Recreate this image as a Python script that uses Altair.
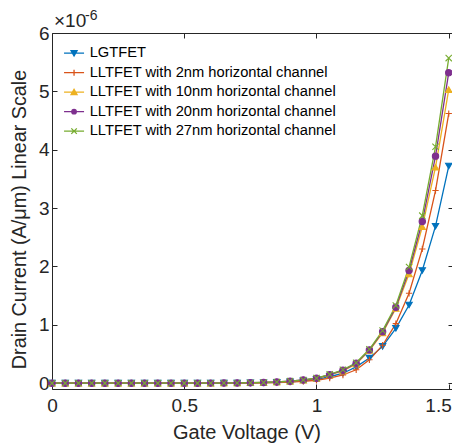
import altair as alt
import pandas as pd

voltage = [0.0, 0.05, 0.1, 0.15, 0.2, 0.25, 0.3, 0.35, 0.4, 0.45, 0.5, 0.55, 0.6, 0.65,
           0.7, 0.75, 0.8, 0.85, 0.9, 0.95, 1.0, 1.05, 1.1, 1.15, 1.2, 1.25, 1.3, 1.35,
           1.4, 1.45, 1.5]

series_names = ["LGTFET",
                "LLTFET with 2nm horizontal channel",
                "LLTFET with 10nm horizontal channel",
                "LLTFET with 20nm horizontal channel",
                "LLTFET with 27nm horizontal channel"]

# drain current in units of 1e-6 A/um
lgtfet = [0, 0, 0, 0, 0, 0, 0, 0, 0, 0, 0, 0, 0.001, 0.002,
          0.003, 0.005, 0.008, 0.014, 0.024, 0.04, 0.065, 0.11, 0.17, 0.28, 0.43, 0.63,
          0.94, 1.34, 1.93, 2.69, 3.72]
ll2nm = [0, 0, 0, 0, 0, 0, 0, 0, 0, 0, 0, 0, 0.001, 0.001,
         0.002, 0.003, 0.006, 0.01, 0.018, 0.03, 0.05, 0.086, 0.14, 0.23, 0.40, 0.65,
         1.02, 1.54, 2.30, 3.30, 4.62]
ll10nm = [0, 0, 0, 0, 0, 0, 0, 0, 0, 0, 0, 0, 0.001, 0.002,
          0.004, 0.006, 0.011, 0.019, 0.032, 0.052, 0.08, 0.14, 0.21, 0.33, 0.56, 0.86,
          1.28, 1.87, 2.68, 3.70, 5.03]
ll20nm = [0, 0, 0, 0, 0, 0, 0, 0, 0, 0, 0, 0, 0.001, 0.002,
          0.004, 0.007, 0.012, 0.02, 0.034, 0.054, 0.083, 0.145, 0.22, 0.34, 0.57, 0.88,
          1.30, 1.93, 2.77, 3.89, 5.32]
ll27nm = [0, 0, 0, 0, 0, 0, 0, 0, 0, 0, 0, 0, 0.001, 0.002,
          0.004, 0.007, 0.012, 0.02, 0.035, 0.055, 0.086, 0.15, 0.23, 0.35, 0.58, 0.90,
          1.33, 1.99, 2.87, 4.05, 5.57]

colors = ["#0072BD", "#D95319", "#EDB120", "#7E2F8E", "#77AC30"]
marker_shapes = ["triangle-down", "M-1,0L1,0M0,-1L0,1", "triangle-up", "circle",
                 "M-1,-1L1,1M-1,1L1,-1"]
legend_shapes = [
    "M-2,0L2,0M-0.6,-0.5L0.6,-0.5L0,0.55Z",
    "M-2,0L2,0M0,-0.6L0,0.6",
    "M-2,0L2,0M-0.6,0.5L0.6,0.5L0,-0.55Z",
    "M-2,0L2,0M-0.45,0A0.45,0.45,0,1,1,0.45,0A0.45,0.45,0,1,1,-0.45,0Z",
    "M-2,0L2,0M-0.55,-0.55L0.55,0.55M-0.55,0.55L0.55,-0.55",
]

rows = []
for name, vals in zip(series_names, [lgtfet, ll2nm, ll10nm, ll20nm, ll27nm]):
    for v, c in zip(voltage, vals):
        rows.append({"V": v, "I": c, "series": name})
df = pd.DataFrame(rows)

FONT = "Liberation Sans"
AX = "#262626"

xs = alt.Scale(domain=[0, 1.5161], nice=False, zero=False)
ys = alt.Scale(domain=[-0.1, 6], nice=False, zero=False)
col_scale = alt.Scale(domain=series_names, range=colors)

base = alt.Chart(df)

lines = base.mark_line(strokeWidth=1.3).encode(
    x=alt.X("V:Q", scale=xs, axis=alt.Axis(
        orient="bottom", values=[0, 0.5, 1, 1.5], labelExpr="toString(datum.value)",
        tickSize=5, offset=-5, domain=False, grid=False, tickColor=AX,
        labelFont=FONT, labelFontSize=19, labelColor=AX, labelPadding=7,
        labelAlign={"condition": {"test": "datum.value == 1.5", "value": "right"},
                    "value": "center"},
        labelOffset={"condition": {"test": "datum.value == 1.5", "value": 2.5},
                     "value": 0},
        title="Gate Voltage (V)", titleFont=FONT, titleFontSize=20,
        titleFontWeight="normal", titleColor=AX, titleBaseline="alphabetic",
        titleAlign="center", titleX=194.5, titleY=54.7)),
    y=alt.Y("I:Q", scale=ys, axis=alt.Axis(
        orient="left", values=[0, 1, 2, 3, 4, 5, 6], tickSize=5, offset=-5,
        domain=False, grid=False, tickColor=AX,
        labelFont=FONT, labelFontSize=19, labelColor=AX, labelPadding=3,
        title="Drain Current (A/μm) Linear Scale", titleFont=FONT, titleFontSize=19.8,
        titleFontWeight="normal", titleColor=AX, titleBaseline="alphabetic",
        titleAngle=-90, titleAlign="center", titleX=-32, titleY=186)),
    color=alt.Color("series:N", scale=col_scale, legend=None),
    detail="series:N",
)

points = base.mark_point(filled=True, size=40, strokeWidth=1.1, opacity=1).encode(
    x=alt.X("V:Q", scale=xs, axis=alt.Axis(
        orient="top", values=[0, 0.5, 1, 1.5], labels=False, tickSize=5, offset=-5,
        domain=False, grid=False, tickColor=AX, title=None)),
    y=alt.Y("I:Q", scale=ys, axis=alt.Axis(
        orient="right", values=[0, 1, 2, 3, 4, 5, 6], labels=False, tickSize=5,
        offset=-5, domain=False, grid=False, tickColor=AX, title=None)),
    color=alt.Color("series:N", scale=col_scale, legend=None),
    stroke=alt.Stroke("series:N", scale=col_scale, legend=None),
    shape=alt.Shape("series:N", scale=alt.Scale(domain=series_names, range=marker_shapes),
                    legend=None),
)

legend_layer = base.transform_filter("datum.V < 0").mark_point(
    filled=True, strokeWidth=1.3, opacity=1).encode(
    x=alt.X("V:Q", scale=xs, axis=None),
    y=alt.Y("I:Q", scale=ys, axis=None),
    color=alt.Color("series:N", scale=col_scale, legend=alt.Legend(title=None)),
    stroke=alt.Stroke("series:N", scale=col_scale, legend=alt.Legend(title=None)),
    shape=alt.Shape("series:N", scale=alt.Scale(domain=series_names, range=legend_shapes),
                    legend=alt.Legend(title=None)),
)

times10 = alt.Chart(alt.Data(values=[{"t": "×10"}])).mark_text(
    font=FONT, fontSize=19, color=AX, align="left", baseline="alphabetic").encode(
    x=alt.value(2), y=alt.value(-6.5), text="t:N")
exp6 = alt.Chart(alt.Data(values=[{"t": "-6"}])).mark_text(
    font=FONT, fontSize=14, color=AX, align="left", baseline="alphabetic").encode(
    x=alt.value(33), y=alt.value(-13), text="t:N")

chart = alt.layer(lines, points, legend_layer, times10, exp6).resolve_scale(
    color="independent", stroke="independent", shape="independent"
).resolve_axis(x="independent", y="independent").properties(
    width=401, height=356,
    autosize=alt.AutoSizeParams(type="none"),
    padding={"left": 44, "top": 25, "right": -1, "bottom": 55},
).configure_view(stroke=AX, strokeWidth=1).configure_legend(
    orient="none", legendX=14.7, legendY=12.8, padding=0,
    symbolSize=100, symbolStrokeWidth=1.3, symbolOpacity=1,
    labelFont=FONT, labelFontSize=14.7, labelColor="#000000", labelOffset=8.3,
    rowPadding=3.5, labelLimit=400,
)

chart.save("out.html", embed_options={"renderer": "svg", "actions": False})
